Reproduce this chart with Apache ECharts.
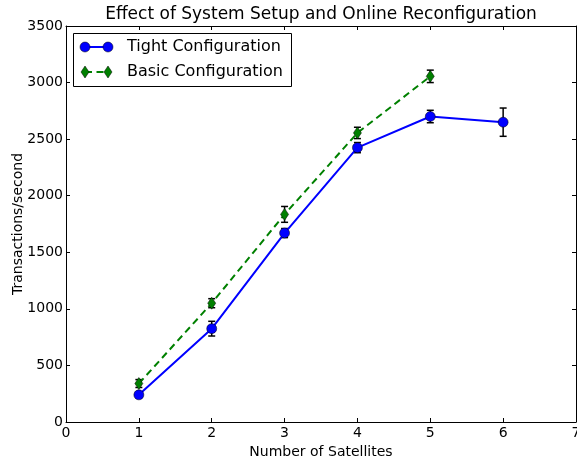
<!DOCTYPE html>
<html>
<head>
<meta charset="utf-8">
<script src="https://cdn.jsdelivr.net/npm/echarts@6/dist/echarts.min.js"></script>
<style>
  html, body { margin: 0; padding: 0; background: #fff; }
  #chart { width: 577px; height: 457px; }
</style>
</head>
<body>
<div id="chart"></div>
<script>
// data
var satellites = [1, 2, 3, 4, 5, 6];
var tightTps = [240, 825, 1670, 2425, 2700, 2650];
var tightErr = [20, 65, 40, 45, 55, 125];

var basicSatellites = [1, 2, 3, 4, 5];
var basicTps = [340, 1050, 1835, 2555, 3055];
var basicErr = [35, 40, 70, 50, 55];

var xTicks = [0, 1, 2, 3, 4, 5, 6, 7];
var yTicks = [0, 500, 1000, 1500, 2000, 2500, 3000, 3500];

var FONT = 'DejaVu Sans';

function pairs(xs, ys) {
    return xs.map(function (x, i) { return [x, ys[i]]; });
}
function errData(xs, ys, es) {
    return xs.map(function (x, i) { return [x, ys[i], es[i]]; });
}

// 误差线: 竖线 + 上下帽
function renderErr(params, api) {
    var x = api.value(0), y = api.value(1), e = api.value(2);
    var lo = api.coord([x, y - e]);
    var hi = api.coord([x, y + e]);
    var cap = 3.5;
    var st = { stroke: '#000', lineWidth: 1.5 };
    return {
        type: 'group',
        children: [
            { type: 'line', shape: { x1: lo[0], y1: lo[1], x2: hi[0], y2: hi[1] }, style: st },
            { type: 'line', shape: { x1: lo[0] - cap, y1: lo[1], x2: lo[0] + cap, y2: lo[1] }, style: st },
            { type: 'line', shape: { x1: hi[0] - cap, y1: hi[1], x2: hi[0] + cap, y2: hi[1] }, style: st }
        ]
    };
}

function axisCommon() {
    return {
        axisLine: { show: true, onZero: false, lineStyle: { color: '#000', width: 1 } },
        axisTick: { show: true, inside: true, length: 4, lineStyle: { color: '#000' } },
        splitLine: { show: false }
    };
}

function xAx(pos, showLabel) {
    return Object.assign({
        type: 'value', position: pos, min: 0, max: 7, interval: 1,
        axisLabel: { show: showLabel, color: '#000', fontFamily: FONT, fontSize: 14, margin: 4,
            showMaxLabel: true,
            formatter: function (v) { return xTicks.indexOf(v) >= 0 ? String(v) : ''; } },
        name: showLabel ? 'Number of Satellites' : '',
        nameLocation: 'middle', nameGap: 19,
        nameTextStyle: { color: '#000', fontFamily: FONT, fontSize: 14 }
    }, axisCommon());
}
function yAx(pos, showLabel) {
    return Object.assign({
        type: 'value', position: pos, min: 0, max: 3500, interval: 500,
        axisLabel: { show: showLabel, color: '#000', fontFamily: FONT, fontSize: 14, margin: 3,
            formatter: function (v) { return yTicks.indexOf(v) >= 0 ? String(v) : ''; } },
        name: showLabel ? 'Transactions/second' : '',
        nameLocation: 'middle', nameGap: 41, nameMoveOverlap: false,
        nameTextStyle: { color: '#000', fontFamily: FONT, fontSize: 14 }
    }, axisCommon());
}

// legend box drawn by hand (matplotlib style, two markers per entry)
var lx1 = 85, lx2 = 108, ly1 = 47, ly2 = 72;
var legendFont = '16px "DejaVu Sans"';
var legendGraphic = [
    { type: 'rect', shape: { x: 73.5, y: 33.5, width: 218, height: 53 },
      style: { fill: '#fff', stroke: '#000', lineWidth: 1 }, z: 100 },
    { type: 'line', shape: { x1: lx1, y1: ly1, x2: lx2, y2: ly1 },
      style: { stroke: '#0000ff', lineWidth: 2 }, z: 101 },
    { type: 'circle', shape: { cx: lx1, cy: ly1, r: 5 },
      style: { fill: '#0000ff', stroke: '#000', lineWidth: 0.5 }, z: 102 },
    { type: 'circle', shape: { cx: lx2, cy: ly1, r: 5 },
      style: { fill: '#0000ff', stroke: '#000', lineWidth: 0.5 }, z: 102 },
    { type: 'text', x: 127, y: ly1, style: { text: 'Tight Configuration', fill: '#000',
      font: legendFont, verticalAlign: 'middle' }, z: 102 },
    { type: 'line', shape: { x1: lx1, y1: ly2, x2: lx2, y2: ly2 },
      style: { stroke: '#008000', lineWidth: 2, lineDash: [7, 4.5] }, z: 101 },
    { type: 'polygon', shape: { points: [[lx1, ly2 - 6], [lx1 + 4, ly2], [lx1, ly2 + 6], [lx1 - 4, ly2]] },
      style: { fill: '#008000', stroke: '#000', lineWidth: 0.5 }, z: 102 },
    { type: 'polygon', shape: { points: [[lx2, ly2 - 6], [lx2 + 4, ly2], [lx2, ly2 + 6], [lx2 - 4, ly2]] },
      style: { fill: '#008000', stroke: '#000', lineWidth: 0.5 }, z: 102 },
    { type: 'text', x: 127, y: ly2, style: { text: 'Basic Configuration', fill: '#000',
      font: legendFont, verticalAlign: 'middle' }, z: 102 }
];

var chart = echarts.init(document.getElementById('chart'), null, { renderer: 'canvas' });
chart.setOption({
    animation: false,
    backgroundColor: '#fff',
    textStyle: { fontFamily: FONT },
    title: {
        text: 'Effect of System Setup and Online Reconfiguration',
        left: 321, top: 6, padding: 0, textAlign: 'center',
        textStyle: { color: '#000', fontFamily: FONT, fontSize: 17, fontWeight: 'normal' }
    },
    grid: { left: 66, right: 1, top: 26, bottom: 35, containLabel: false, outerBoundsMode: 'none' },
    xAxis: [xAx('bottom', true), xAx('top', false)],
    yAxis: [yAx('left', true), yAx('right', false)],
    graphic: legendGraphic,
    series: [
        {
            name: 'Tight Configuration', type: 'line', z: 3,
            data: pairs(satellites, tightTps),
            symbol: 'circle', symbolSize: 10,
            lineStyle: { color: '#0000ff', width: 2 },
            itemStyle: { color: '#0000ff', borderColor: '#000', borderWidth: 0.5 }
        },
        {
            name: 'tightErr', type: 'custom', z: 2,
            renderItem: renderErr, data: errData(satellites, tightTps, tightErr)
        },
        {
            name: 'Basic Configuration', type: 'line', z: 5,
            data: pairs(basicSatellites, basicTps),
            symbol: 'diamond', symbolSize: [8, 12],
            lineStyle: { color: '#008000', width: 2, type: [7, 4.5] },
            itemStyle: { color: '#008000', borderColor: '#000', borderWidth: 0.5 }
        },
        {
            name: 'basicErr', type: 'custom', z: 4,
            renderItem: renderErr, data: errData(basicSatellites, basicTps, basicErr)
        }
    ]
});
</script>
</body>
</html>
